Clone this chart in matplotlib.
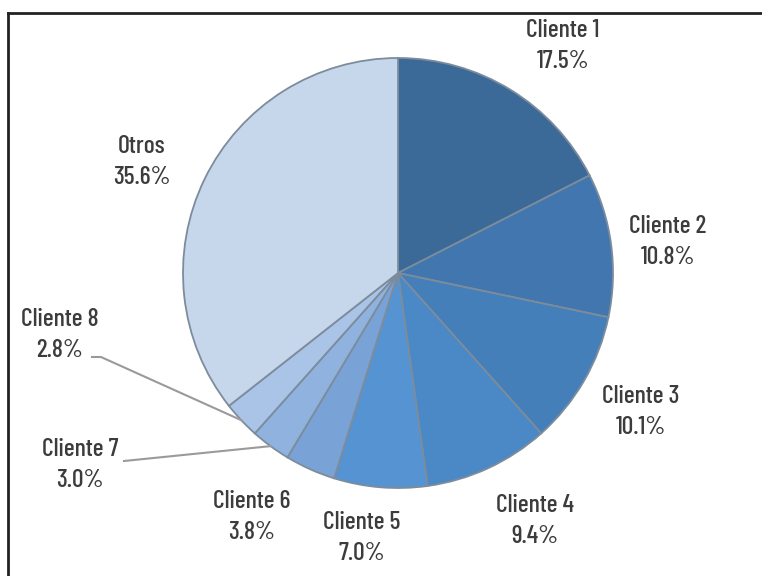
import numpy as np
import matplotlib
matplotlib.use('Agg')
import matplotlib.pyplot as plt
from matplotlib.lines import Line2D

# Client share of sales (%)
clients = ['Cliente 1', 'Cliente 2', 'Cliente 3', 'Cliente 4', 'Cliente 5',
           'Cliente 6', 'Cliente 7', 'Cliente 8', 'Otros']
shares = [17.5, 10.8, 10.1, 9.4, 7.0, 3.8, 3.0, 2.8, 35.6]
colors = ['#3b6a99', '#4177ae', '#457fb9', '#4a88c6', '#5593d3',
          '#79a3d6', '#8fb2de', '#a9c4e6', '#c6d7ec']

plt.rcParams['font.family'] = ['Barlow Condensed', 'DejaVu Sans']

W, H = 762, 576
fig = plt.figure(figsize=(W / 100, H / 100), dpi=100)
ax = fig.add_axes([0, 0, 1, 1])

cx, cy, rad = 398, H - 273, 215
wedges, _ = ax.pie(shares, colors=colors, startangle=90, counterclock=False,
                   center=(cx, cy), radius=rad, frame=True,
                   wedgeprops=dict(edgecolor='#7d8c9c', linewidth=1.3))
ax.set_xlim(0, W)
ax.set_ylim(0, H)
ax.set_aspect('equal')
ax.axis('off')

# label centres (pixels from top-left)
label_xy = [(563, 46), (668, 242), (641, 412), (535, 521), (362, 538),
            (252, 517), (80, 465), (60, 335), (142, 162)]
for name, val, (lx, ly) in zip(clients, shares, label_xy):
    ax.text(lx, H - ly, f'{name}\n{val:.1f}%', ha='center', va='center',
            fontsize=18.5, fontweight=500, color='#3c3c3c', linespacing=1.4)


def edge_point(w):
    ang = np.deg2rad((w.theta1 + w.theta2) / 2)
    return cx + rad * np.cos(ang), cy + rad * np.sin(ang)


# leader lines for the two thin slices
ex, ey = edge_point(wedges[6])
ax.plot([124, ex], [H - 461, ey], color='#9a9a9a', lw=1.5)
ex, ey = edge_point(wedges[7])
ax.plot([92, 101, ex], [H - 357, H - 357, ey], color='#9a9a9a', lw=1.5)

# frame around the chart
fig.add_artist(Line2D([8 / W, 1.0], [1 - 13 / H, 1 - 13 / H],
                      transform=fig.transFigure, color='#222222', lw=2))
fig.add_artist(Line2D([8 / W, 8 / W], [1 - 13 / H, 0.0],
                      transform=fig.transFigure, color='#222222', lw=2))

fig.savefig('out.png', dpi=100)
